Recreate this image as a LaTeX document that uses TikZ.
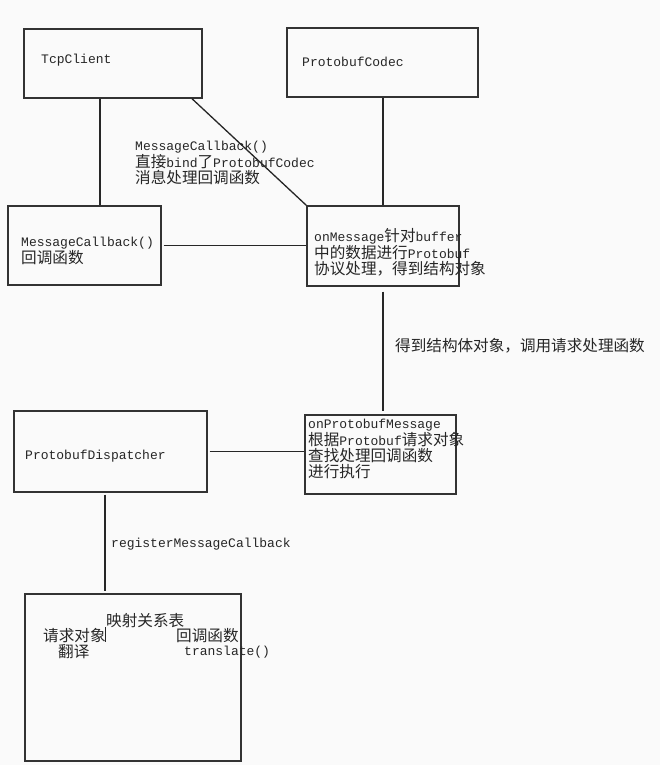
\documentclass[tikz,border=0pt]{standalone}
\usepackage{fontspec}
\setmainfont{Liberation Mono}
\newfontfamily\zhfont{Noto Sans CJK SC}[Scale=1.2]
\newcommand{\zh}[1]{{\zhfont #1}}
\usepackage{tikz}

\begin{document}
\begin{tikzpicture}[x=1pt,y=-1pt,
    box/.style={draw=black!80, line width=1.4pt, inner sep=0pt},
    lbl/.style={anchor=west, inner sep=0pt, align=left, text=black!85,
      font=\fontsize{13}{15.8}\selectfont},
    link/.style={draw=black!85, line width=1.3pt}]
    \fill[black!2] (0,0) rectangle (660,765);
    \useasboundingbox (0,0) rectangle (660,765);

    % boxes
    \node[box, minimum width=178pt, minimum height=69pt] (tcp) at (113,63.5) {};
    \node[box, minimum width=191pt, minimum height=69pt] (codec) at (382.5,62.5) {};
    \node[box, minimum width=153pt, minimum height=79pt] (mcb) at (84.5,245.5) {};
    \node[box, minimum width=152pt, minimum height=80pt] (onmsg) at (383,246) {};
    \node[box, minimum width=193pt, minimum height=81pt] (disp) at (110.5,451.5) {};
    \node[box, minimum width=151pt, minimum height=79pt] (onpb) at (380.5,454.5) {};
    \node[box, minimum width=216pt, minimum height=167pt] (map) at (133,677.5) {};

    % texts
    \node[lbl] (tcp-txt) at (41,60) {TcpClient};
    \node[lbl] (codec-txt) at (302,62) {ProtobufCodec};
    \node[lbl] (bind-txt) at (135,163) {MessageCallback()\\\zh{直接}bind\zh{了}ProtobufCodec\\\zh{消息处理回调函数}};
    \node[lbl] (mcb-txt) at (21,251) {MessageCallback()\\\zh{回调函数}};
    \node[lbl] (onmsg-txt) at (314,252.5) {onMessage\zh{针对}buffer\\\zh{中的数据进行}Protobuf\\\zh{协议处理，得到结构对象}};
    \node[lbl] (get-txt) at (395,346) {\zh{得到结构体对象，调用请求处理函数}};
    \node[lbl] (disp-txt) at (25,456) {ProtobufDispatcher};
    \node[lbl] (onpb-txt) at (308,449) {onProtobufMessage\\\zh{根据}Protobuf\zh{请求对象}\\\zh{查找处理回调函数}\\\zh{进行执行}};
    \node[lbl] (reg-txt) at (111,544) {registerMessageCallback};
    \node[lbl] (map-txt) at (106,621) {\zh{映射关系表}};
    \node[lbl] (req-txt) at (43,636) {\zh{请求对象}};
    \node[lbl] (trans-txt) at (58,652) {\zh{翻译}};
    \node[lbl] (cb-txt) at (176,636) {\zh{回调函数}};
    \node[lbl] (tfn-txt) at (184,652) {translate()};

    % links
    \draw[link] (tcp.south -| 100,0) -- (mcb.north -| 100,0);
    \draw[link] (tcp.south -| 192,0) -- (onmsg.north west);
    \draw[link] (codec.south -| 383,0) -- (onmsg.north -| 383,0);
    \draw[link, shorten <=2pt] (mcb.east) -- (onmsg.west |- mcb.east);
    \draw[link, shorten <=5pt, shorten >=3pt] (onmsg.south -| 383,0) -- (onpb.north -| 383,0);
    \draw[link, shorten <=2pt] (disp.east) -- (onpb.west |- disp.east);
    \draw[link, shorten <=2pt, shorten >=2pt] (disp.south -| 105,0) -- (map.north -| 105,0);
    \draw[black!85, line width=0.8pt] (105,627) -- (105,642);
\end{tikzpicture}
\end{document}
